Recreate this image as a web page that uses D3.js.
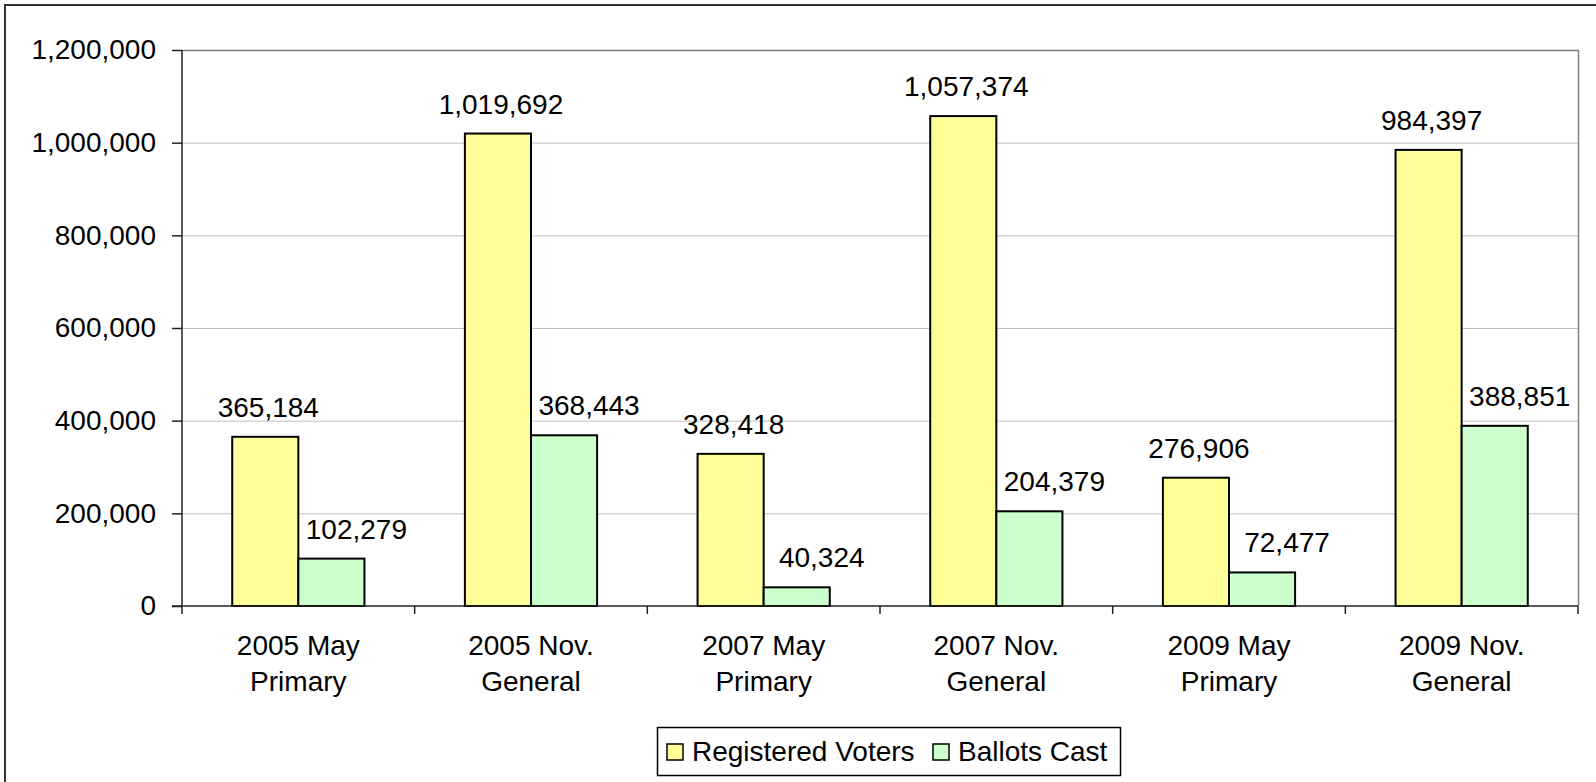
<!DOCTYPE html>
<html>
<head>
<meta charset="utf-8">
<script src="https://cdn.jsdelivr.net/npm/d3@7"></script>
<style>
  body { margin: 0; background: #fff; }
  text { font-family: "Liberation Sans", Arial, sans-serif; fill: #000; }
</style>
</head>
<body>
<svg id="chart" width="1596" height="782"></svg>
<script>
// chart data
var categories = ["2005 May Primary", "2005 Nov. General", "2007 May Primary",
                  "2007 Nov. General", "2009 May Primary", "2009 Nov. General"];
var categoryLines = [["2005 May", "Primary"], ["2005 Nov.", "General"], ["2007 May", "Primary"],
                     ["2007 Nov.", "General"], ["2009 May", "Primary"], ["2009 Nov.", "General"]];
var seriesNames = ["Registered Voters", "Ballots Cast"];
var registeredVoters = [365184, 1019692, 328418, 1057374, 276906, 984397];
var ballotsCast = [102279, 368443, 40324, 204379, 72477, 388851];
var yTicks = [0, 200000, 400000, 600000, 800000, 1000000, 1200000];

var colors = { "Registered Voters": "#ffff99", "Ballots Cast": "#ccffcc" };
// labels of the second series sit a little to the right of their bars
var labelShift = { "Registered Voters": 3, "Ballots Cast": 25 };

var svg = d3.select("#chart");

// outer frame (runs off the picture right and bottom)
svg.append("rect")
    .attr("x", 5)
    .attr("y", 5)
    .attr("width", 1620)
    .attr("height", 820)
    .attr("fill", "none")
    .attr("stroke", "#333")
    .attr("stroke-width", 2);

let plotLeft = 182, plotRight = 1578, plotTop = 50, plotBottom = 606;

let x0 = d3.scaleBand()
    .domain(categories)
    .range([plotLeft, plotRight])
    .padding(0);

let x1 = d3.scaleBand()
    .domain(seriesNames)
    .range([0, x0.bandwidth()])
    .paddingInner(0)
    .paddingOuter(0.76);

let y = d3.scaleLinear()
    .domain([0, 1200000])
    .range([plotBottom, plotTop]);

// grid
svg.append("g").selectAll("line")
    .data(yTicks.slice(1))
    .enter().append("line")
    .attr("x1", plotLeft)
    .attr("x2", plotRight)
    .attr("y1", function(d) { return y(d) + 0.5; })
    .attr("y2", function(d) { return y(d) + 0.5; })
    .attr("stroke", "#c0c0c0")
    .attr("stroke-width", 1);

// plot area border top/right
svg.append("path")
    .attr("d", "M" + plotLeft + "," + (plotTop + 0.5) + "H" + (plotRight + 0.5) + "V" + plotBottom)
    .attr("fill", "none")
    .attr("stroke", "#808080")
    .attr("stroke-width", 1.5);

let rows = categories.map(function(c, i) {
    return { cat: c, lines: categoryLines[i], values: [
        { name: seriesNames[0], value: registeredVoters[i] },
        { name: seriesNames[1], value: ballotsCast[i] }
    ] };
});

let groups = svg.append("g").selectAll("g")
    .data(rows)
    .enter().append("g")
    .attr("transform", function(d) { return "translate(" + x0(d.cat) + ",0)"; });

groups.selectAll("rect")
    .data(function(d) { return d.values; })
    .enter().append("rect")
    .attr("x", function(d) { return x1(d.name); })
    .attr("y", function(d) { return y(d.value); })
    .attr("width", x1.bandwidth())
    .attr("height", function(d) { return plotBottom - y(d.value); })
    .attr("fill", function(d) { return colors[d.name]; })
    .attr("stroke", "#000")
    .attr("stroke-width", 2);

groups.selectAll("text.value")
    .data(function(d) { return d.values; })
    .enter().append("text")
    .attr("class", "value")
    .attr("x", function(d) { return x1(d.name) + x1.bandwidth() / 2 + labelShift[d.name]; })
    .attr("y", function(d) { return y(d.value) - 20; })
    .attr("text-anchor", "middle")
    .style("font-size", "28px")
    .text(function(d) { return d3.format(",")(d.value); });

// y axis
let yAxis = svg.append("g")
    .attr("transform", "translate(" + plotLeft + ",0)")
    .call(d3.axisLeft(y).tickValues(yTicks).tickFormat(d3.format(",")).tickSize(10).tickPadding(16));
yAxis.select(".domain").attr("stroke", "#222").attr("stroke-width", 1.5).attr("d", "M0," + plotTop + "V" + plotBottom);
yAxis.selectAll(".tick line").attr("stroke", "#222").attr("stroke-width", 1.5);
yAxis.selectAll(".tick text")
    .style("font-size", "28px")
    .style("font-family", "Liberation Sans, Arial, sans-serif")
    .attr("fill", "#000");

// x axis line and boundary ticks
svg.append("line")
    .attr("x1", plotLeft - 10)
    .attr("x2", plotRight)
    .attr("y1", plotBottom)
    .attr("y2", plotBottom)
    .attr("stroke", "#222")
    .attr("stroke-width", 1.5);

let bounds = categories.map(function(c) { return x0(c); }).concat([plotRight]);
svg.append("g").selectAll("line")
    .data(bounds)
    .enter().append("line")
    .attr("x1", function(d) { return d; })
    .attr("x2", function(d) { return d; })
    .attr("y1", plotBottom)
    .attr("y2", plotBottom + 8)
    .attr("stroke", "#222")
    .attr("stroke-width", 1.5);

// category labels
let catText = svg.append("g").selectAll("text")
    .data(rows)
    .enter().append("text")
    .attr("x", function(d) { return x0(d.cat) + x0.bandwidth() / 2; })
    .attr("y", 655)
    .attr("text-anchor", "middle")
    .style("font-size", "28px");

catText.selectAll("tspan")
    .data(function(d) { return d.lines; })
    .enter().append("tspan")
    .attr("x", function() { let p = this.parentNode.__data__; return x0(p.cat) + x0.bandwidth() / 2; })
    .attr("dy", function(d, i) { return i === 0 ? 0 : 36; })
    .text(function(d) { return d; });

// legend
let legend = svg.append("g");
legend.append("rect")
    .attr("x", 657.5)
    .attr("y", 727.5)
    .attr("width", 463)
    .attr("height", 48)
    .attr("fill", "#fff")
    .attr("stroke", "#000")
    .attr("stroke-width", 1.5);

let legendX = [667, 933];
seriesNames.forEach(function(name, i) {
    legend.append("rect")
        .attr("x", legendX[i])
        .attr("y", 744)
        .attr("width", 16)
        .attr("height", 16)
        .attr("fill", colors[name])
        .attr("stroke", "#000")
        .attr("stroke-width", 1.5);
    legend.append("text")
        .attr("x", legendX[i] + 25)
        .attr("y", 761)
        .style("font-size", "28px")
        .text(name);
});
</script>
</body>
</html>
